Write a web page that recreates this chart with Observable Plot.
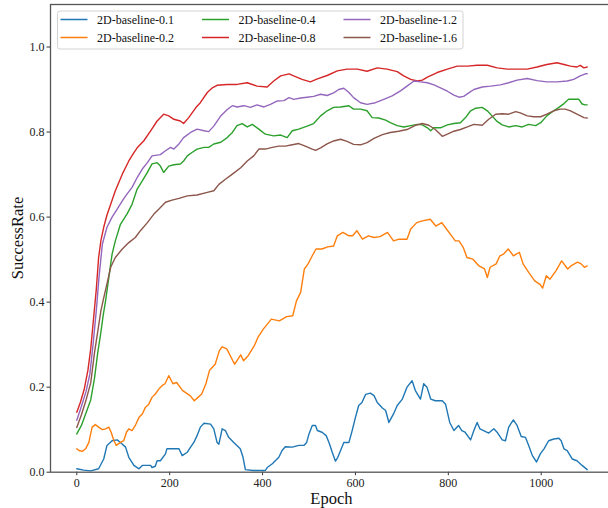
<!DOCTYPE html>
<html><head><meta charset="utf-8">
<script src="https://cdn.jsdelivr.net/npm/d3@7"></script>
<script src="https://cdn.jsdelivr.net/npm/@observablehq/plot@0.6"></script>
<style>
html,body{margin:0;padding:0;background:#fff;overflow:hidden;}
#chart{width:608px;height:508px;}
</style></head><body><div id="chart"></div>
<script>
const seriesNames = ["2D-baseline-0.1","2D-baseline-0.2","2D-baseline-0.4","2D-baseline-0.8","2D-baseline-1.2","2D-baseline-1.6"];
const seriesColors = ["#1f77b4","#ff7f0e","#2ca02c","#d62728","#9467bd","#8c564b"];
const xTicks = [0,200,400,600,800,1000];
const yTicks = [0,0.2,0.4,0.6,0.8,1.0];
const xLabel = "Epoch";
const yLabel = "SuccessRate";

const s01 = [[0,0.008],[15,0.005],[30,0.003],[47,0.008],[58,0.031],[65,0.063],[76,0.074],[87,0.076],[94,0.07],[105,0.059],[112,0.035],[123,0.016],[134,0.008],[141,0.016],[159,0.016],[162,0.011],[169,0.014],[173,0.027],[180,0.027],[191,0.043],[194,0.055],[209,0.055],[220,0.055],[227,0.039],[238,0.047],[245,0.059],[252,0.07],[259,0.086],[266,0.106],[274,0.115],[288,0.113],[295,0.102],[302,0.07],[306,0.066],[313,0.102],[320,0.098],[327,0.082],[338,0.07],[352,0.055],[358,0.035],[363,0.006],[380,0.004],[406,0.004],[410,0.011],[421,0.02],[435,0.035],[442,0.051],[449,0.06],[464,0.059],[478,0.063],[489,0.063],[495,0.07],[500,0.09],[507,0.11],[514,0.11],[518,0.098],[528,0.094],[537,0.086],[543,0.07],[550,0.047],[557,0.026],[562,0.035],[568,0.051],[575,0.07],[586,0.07],[593,0.098],[600,0.129],[607,0.157],[614,0.164],[622,0.183],[632,0.186],[640,0.18],[647,0.164],[658,0.151],[665,0.145],[672,0.117],[682,0.137],[690,0.157],[701,0.172],[711,0.2],[722,0.215],[729,0.192],[740,0.172],[747,0.208],[754,0.2],[762,0.172],[772,0.168],[787,0.168],[794,0.16],[803,0.117],[812,0.098],[822,0.11],[829,0.098],[836,0.094],[848,0.076],[855,0.098],[862,0.117],[868,0.102],[876,0.098],[887,0.092],[898,0.102],[905,0.094],[916,0.076],[923,0.074],[930,0.106],[940,0.123],[948,0.11],[957,0.084],[966,0.082],[973,0.063],[981,0.039],[990,0.024],[998,0.043],[1006,0.055],[1016,0.074],[1027,0.078],[1038,0.08],[1043,0.074],[1049,0.055],[1056,0.051],[1067,0.031],[1077,0.027],[1088,0.016],[1099,0.006]];

const s02 = [[0,0.055],[5,0.051],[12,0.049],[19,0.055],[26,0.07],[33,0.106],[40,0.112],[47,0.106],[55,0.1],[62,0.102],[69,0.106],[74,0.094],[80,0.074],[85,0.063],[94,0.07],[101,0.074],[107,0.094],[112,0.102],[119,0.098],[126,0.11],[134,0.129],[141,0.137],[148,0.153],[155,0.16],[162,0.176],[169,0.184],[177,0.196],[184,0.204],[190,0.208],[198,0.227],[207,0.208],[215,0.211],[228,0.192],[236,0.186],[244,0.18],[253,0.168],[261,0.176],[269,0.184],[278,0.208],[286,0.24],[298,0.254],[307,0.286],[313,0.295],[323,0.29],[336,0.262],[340,0.254],[353,0.276],[359,0.262],[369,0.274],[382,0.297],[390,0.317],[402,0.337],[419,0.36],[436,0.356],[452,0.366],[465,0.368],[473,0.403],[482,0.423],[490,0.478],[498,0.49],[507,0.509],[515,0.525],[528,0.525],[540,0.53],[553,0.532],[561,0.556],[573,0.564],[586,0.556],[594,0.556],[603,0.568],[615,0.548],[628,0.556],[640,0.552],[653,0.554],[669,0.564],[682,0.544],[694,0.548],[711,0.548],[719,0.572],[732,0.587],[744,0.591],[761,0.595],[773,0.579],[786,0.587],[794,0.575],[807,0.556],[815,0.544],[823,0.544],[832,0.529],[840,0.505],[853,0.501],[865,0.486],[878,0.478],[884,0.458],[890,0.482],[903,0.49],[911,0.509],[919,0.513],[929,0.525],[940,0.509],[953,0.517],[961,0.49],[973,0.47],[986,0.45],[998,0.441],[1003,0.433],[1011,0.462],[1019,0.454],[1032,0.474],[1044,0.497],[1057,0.478],[1065,0.486],[1078,0.494],[1086,0.49],[1093,0.482],[1099,0.485]];

const s04 = [[0,0.09],[10,0.11],[20,0.14],[30,0.17],[38,0.22],[45,0.28],[52,0.33],[57,0.37],[62,0.403],[69,0.458],[76,0.513],[83,0.544],[94,0.583],[108,0.607],[119,0.63],[130,0.666],[141,0.685],[152,0.705],[162,0.725],[173,0.728],[180,0.72],[187,0.705],[198,0.72],[209,0.723],[223,0.725],[230,0.732],[238,0.744],[248,0.752],[259,0.76],[274,0.764],[284,0.764],[295,0.772],[310,0.776],[324,0.787],[335,0.799],[345,0.815],[356,0.82],[367,0.812],[378,0.818],[392,0.807],[406,0.795],[424,0.791],[439,0.793],[453,0.787],[464,0.803],[478,0.807],[496,0.814],[510,0.82],[525,0.838],[539,0.85],[553,0.858],[568,0.859],[586,0.862],[596,0.854],[611,0.854],[625,0.85],[636,0.834],[650,0.833],[665,0.828],[675,0.822],[690,0.815],[704,0.812],[719,0.815],[733,0.818],[744,0.817],[755,0.81],[762,0.803],[769,0.81],[783,0.81],[798,0.817],[812,0.82],[826,0.822],[837,0.834],[848,0.85],[859,0.856],[873,0.858],[884,0.85],[894,0.838],[905,0.825],[916,0.817],[930,0.812],[945,0.815],[959,0.812],[973,0.818],[988,0.815],[999,0.822],[1012,0.838],[1027,0.85],[1038,0.858],[1049,0.867],[1059,0.877],[1074,0.877],[1081,0.877],[1088,0.866],[1095,0.864],[1099,0.864]];

const s08 = [[0,0.141],[8,0.165],[16,0.195],[24,0.24],[30,0.29],[36,0.36],[42,0.43],[47,0.505],[52,0.545],[58,0.576],[65,0.605],[73,0.63],[83,0.662],[98,0.701],[112,0.732],[122,0.75],[130,0.763],[144,0.779],[159,0.803],[173,0.826],[187,0.842],[198,0.838],[209,0.83],[223,0.826],[230,0.82],[241,0.834],[256,0.857],[266,0.869],[281,0.893],[292,0.904],[302,0.91],[324,0.912],[345,0.912],[367,0.916],[388,0.908],[410,0.906],[424,0.92],[439,0.932],[457,0.937],[467,0.932],[485,0.924],[503,0.918],[518,0.925],[539,0.933],[561,0.944],[582,0.948],[604,0.948],[625,0.943],[647,0.951],[668,0.948],[690,0.942],[704,0.932],[719,0.924],[733,0.92],[744,0.922],[755,0.929],[776,0.94],[798,0.948],[819,0.955],[841,0.955],[862,0.957],[884,0.957],[905,0.951],[927,0.948],[948,0.948],[970,0.948],[991,0.953],[1012,0.959],[1034,0.963],[1049,0.959],[1063,0.955],[1077,0.953],[1084,0.957],[1092,0.951],[1099,0.953]];

const s12 = [[0,0.122],[10,0.155],[20,0.19],[28,0.23],[35,0.3],[42,0.38],[48,0.46],[55,0.536],[65,0.576],[76,0.6],[87,0.619],[98,0.638],[108,0.654],[119,0.67],[130,0.693],[141,0.713],[152,0.728],[162,0.744],[180,0.747],[191,0.756],[202,0.764],[209,0.76],[220,0.772],[230,0.787],[245,0.799],[259,0.807],[274,0.803],[284,0.801],[295,0.814],[310,0.838],[324,0.853],[335,0.862],[345,0.859],[360,0.862],[374,0.858],[388,0.864],[403,0.859],[417,0.865],[431,0.873],[446,0.874],[457,0.881],[467,0.877],[482,0.88],[496,0.882],[510,0.884],[525,0.889],[539,0.886],[553,0.892],[564,0.9],[575,0.903],[586,0.893],[596,0.881],[611,0.869],[625,0.865],[643,0.869],[661,0.877],[679,0.885],[697,0.897],[711,0.908],[726,0.92],[740,0.918],[755,0.916],[769,0.911],[783,0.904],[798,0.896],[812,0.887],[823,0.882],[833,0.884],[844,0.892],[855,0.9],[873,0.906],[891,0.908],[912,0.911],[930,0.916],[948,0.922],[970,0.926],[991,0.921],[1012,0.918],[1034,0.918],[1056,0.92],[1070,0.924],[1084,0.932],[1095,0.937],[1099,0.937]];

const s16 = [[0,0.105],[10,0.135],[20,0.17],[30,0.21],[38,0.28],[45,0.33],[52,0.38],[58,0.41],[65,0.443],[73,0.482],[83,0.505],[98,0.525],[112,0.54],[126,0.552],[137,0.568],[152,0.587],[166,0.607],[177,0.619],[191,0.635],[205,0.64],[220,0.644],[238,0.65],[259,0.652],[281,0.658],[295,0.662],[306,0.677],[320,0.689],[335,0.701],[353,0.716],[367,0.732],[381,0.744],[392,0.76],[406,0.76],[421,0.764],[435,0.767],[449,0.767],[464,0.77],[478,0.773],[492,0.767],[507,0.76],[514,0.757],[525,0.763],[539,0.772],[553,0.779],[568,0.783],[582,0.778],[596,0.771],[611,0.77],[625,0.775],[640,0.785],[658,0.794],[675,0.799],[693,0.802],[711,0.806],[729,0.816],[744,0.82],[758,0.816],[772,0.806],[787,0.79],[798,0.795],[812,0.802],[826,0.806],[841,0.812],[855,0.818],[873,0.816],[887,0.83],[902,0.842],[916,0.843],[930,0.842],[945,0.848],[955,0.845],[970,0.838],[984,0.836],[999,0.836],[1012,0.842],[1027,0.85],[1041,0.854],[1052,0.854],[1063,0.85],[1077,0.842],[1092,0.834],[1099,0.833]];

const allSeries = [s01, s02, s04, s08, s12, s16];
const rows = [];
allSeries.forEach((arr, i) => arr.forEach(([e, v]) => rows.push({series: seriesNames[i], epoch: e, rate: v})));

const FONT = '"Liberation Serif","Times New Roman",serif';

const plot = Plot.plot({
  width: 608, height: 508,
  marginLeft: 50, marginRight: -4.7, marginTop: 4, marginBottom: 36.3,
  style: {fontFamily: FONT, fontSize: "12px", color: "#222", background: "#fff", overflow: "hidden"},
  x: {domain: [-56.6, 1155], axis: null},
  y: {domain: [0, 1.1], axis: null},
  color: {domain: seriesNames, range: seriesColors},
  marks: [
    Plot.line(rows, {x: "epoch", y: "rate", z: "series", stroke: "series", strokeWidth: 1.4}),
    Plot.axisX({ticks: xTicks, tickSize: 3.5, tickPadding: 3, fontSize: 12, label: null, tickFormat: d => String(d), stroke: "#333", fill: "#222"}),
    Plot.axisY({ticks: yTicks, tickSize: 3.5, tickPadding: 2.5, fontSize: 12, label: null, tickFormat: d => d.toFixed(1), stroke: "#333", fill: "#222"}),
    Plot.frame({stroke: "#555", strokeWidth: 1.3})
  ]
});

const svg = d3.select(plot);
// axis titles
svg.append("text").attr("x", 331.4).attr("y", 503.5).attr("text-anchor", "middle")
  .attr("font-family", FONT).attr("font-size", 16.5).attr("fill", "#111").text(xLabel);
svg.append("text").attr("transform", "translate(22.5,238) rotate(-90)").attr("text-anchor", "middle")
  .attr("font-family", FONT).attr("font-size", 16.5).attr("fill", "#111").text(yLabel);

// legend
const lg = svg.append("g").attr("text-anchor", "start");
lg.append("rect").attr("x", 57.5).attr("y", 11).attr("width", 405.5).attr("height", 38).attr("rx", 2.5)
  .attr("fill", "#fff").attr("fill-opacity", 0.8).attr("stroke", "#d3d3d3").attr("stroke-width", 1);
seriesNames.forEach((name, i) => {
  const col = Math.floor(i / 2), row = i % 2;
  const lx = 60.5 + col * 141.5, ly = 19.5 + row * 18;
  lg.append("line").attr("x1", lx).attr("x2", lx + 27).attr("y1", ly).attr("y2", ly)
    .attr("stroke", seriesColors[i]).attr("stroke-width", 1.5);
  lg.append("text").attr("x", lx + 36.5).attr("y", ly).attr("dy", "0.35em").attr("text-anchor", "start")
    .attr("font-family", FONT).attr("font-size", 12).attr("fill", "#111").text(name);
});

document.getElementById("chart").appendChild(plot);
</script></body></html>
